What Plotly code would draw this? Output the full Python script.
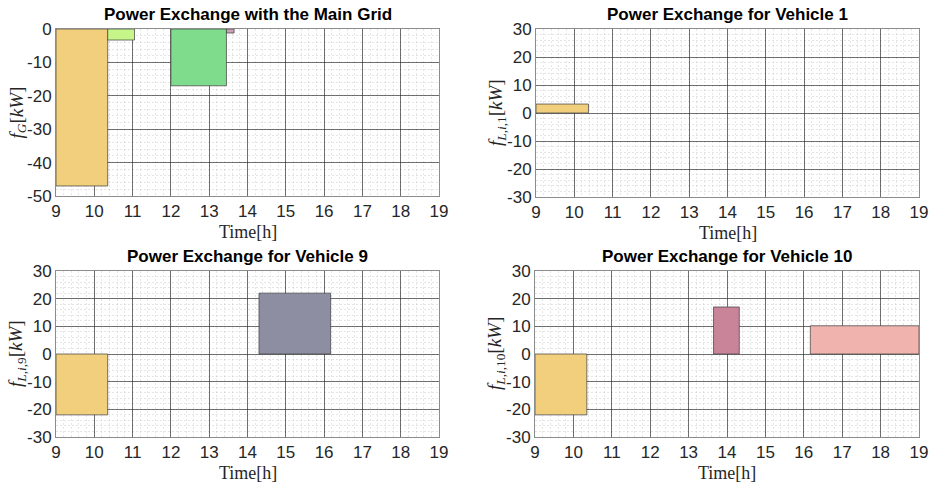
import plotly.graph_objects as go

# ---- data ----
grid_start = [9.0, 10.35, 12.0, 13.45]
grid_end = [10.35, 11.05, 13.45, 13.65]
grid_val = [-47, -3.3, -17, -1.2]

v1_start = [9.0]
v1_end = [10.37]
v1_val = [3.2]

v9_start = [9.0, 14.3]
v9_end = [10.35, 16.17]
v9_val = [-22, 22]

v10_start = [9.0, 13.65, 16.17]
v10_end = [10.35, 14.32, 19.0]
v10_val = [-22, 17, 10.2]

x_ticks = list(range(9, 20))
y_ticks_grid = [-50, -40, -30, -20, -10, 0]
y_ticks_v = [-30, -20, -10, 0, 10, 20, 30]

titles = ["Power Exchange with the Main Grid", "Power Exchange for Vehicle 1",
          "Power Exchange for Vehicle 9", "Power Exchange for Vehicle 10"]
ylabels = ["<i>f</i><sub><i>G</i></sub>[<i>kW</i>]",
           "<i>f</i><sub><i>L,i,</i>1</sub>[<i>kW</i>]",
           "<i>f</i><sub><i>L,i,</i>9</sub>[<i>kW</i>]",
           "<i>f</i><sub><i>L,i,</i>10</sub>[<i>kW</i>]"]

# ---- styles ----
ORANGE = "#F2CF7C"
grid_colors = [ORANGE, "#C6F58A", "#7EDC8C", "#C9A3B3"]
v1_colors = [ORANGE]
v9_colors = [ORANGE, "#8E8EA3"]
v10_colors = [ORANGE, "#CA8499", "#F0B3AD"]

W, H = 936, 485
# plot areas in pixels (left, right, top, bottom)
areas = [(56, 439, 29, 196), (536, 919, 29, 197), (56, 439, 271, 437), (535, 919, 271, 437)]

fig = go.Figure()

datasets = [(grid_start, grid_end, grid_val, grid_colors),
            (v1_start, v1_end, v1_val, v1_colors),
            (v9_start, v9_end, v9_val, v9_colors),
            (v10_start, v10_end, v10_val, v10_colors)]

for i, (s, e, v, c) in enumerate(datasets):
    sfx = "" if i == 0 else str(i + 1)
    fig.add_trace(go.Bar(
        x=[(a + b) / 2 for a, b in zip(s, e)],
        width=[b - a for a, b in zip(s, e)],
        y=v, base=0,
        marker=dict(color=c, line=dict(color="rgba(70,70,70,0.75)", width=1)),
        xaxis="x" + sfx, yaxis="y" + sfx, showlegend=False, hoverinfo="skip"))

tick_font = dict(family="Liberation Sans, Arial, sans-serif", size=17, color="#262626")
layout = {}
for i, (l, r, t, b) in enumerate(areas):
    sfx = "" if i == 0 else str(i + 1)
    yt = y_ticks_grid if i == 0 else y_ticks_v
    common = dict(
        showgrid=True, gridcolor="rgba(40,40,40,0.65)", gridwidth=1,
        zeroline=False, showline=True, mirror=True, linecolor="#8c8c8c", linewidth=1,
        ticks="", tickfont=tick_font, fixedrange=True, automargin=False,
        layer="above traces",
        minor=dict(showgrid=True, gridcolor="rgba(190,190,190,0.4)", griddash="2px,2px", gridwidth=1),
    )
    layout["xaxis" + sfx] = dict(common, domain=[l / W, r / W], range=[9, 19],
                                 tickvals=x_ticks, ticktext=[str(v) for v in x_ticks],
                                 anchor="y" + sfx)
    layout["xaxis" + sfx]["minor"] = dict(common["minor"], dtick=0.2, tick0=9)
    layout["yaxis" + sfx] = dict(common, domain=[1 - b / H, 1 - t / H], range=[yt[0], yt[-1]],
                                 tickvals=yt, ticktext=[str(v) for v in yt],
                                 anchor="x" + sfx)
    layout["yaxis" + sfx]["minor"] = dict(common["minor"], dtick=2, tick0=0)

fig.update_layout(**layout)

ann = []
for i, (l, r, t, b) in enumerate(areas):
    cx = (l + r) / 2
    ann.append(dict(x=cx / W, y=1 - (t - 15) / H, xref="paper", yref="paper",
                    text="<b>" + titles[i] + "</b>", showarrow=False,
                    font=dict(family="Liberation Sans, Arial, sans-serif", size=17, color="#000"),
                    xanchor="center", yanchor="middle"))
    ann.append(dict(x=cx / W, y=1 - (b + 36) / H, xref="paper", yref="paper",
                    text="Time[h]", showarrow=False,
                    font=dict(family="Liberation Serif, Times New Roman, serif", size=18, color="#262626"),
                    xanchor="center", yanchor="middle"))
    ann.append(dict(x=(l - 39) / W, y=1 - ((t + b) / 2) / H, xref="paper", yref="paper",
                    text=ylabels[i], showarrow=False, textangle=-90,
                    font=dict(family="Liberation Serif, Times New Roman, serif", size=19, color="#262626"),
                    xanchor="center", yanchor="middle"))

fig.update_layout(
    width=W, height=H, margin=dict(l=0, r=0, t=0, b=0, autoexpand=False),
    paper_bgcolor="white", plot_bgcolor="white",
    barmode="overlay", annotations=ann,
)

fig.write_html("out.html", config={"displayModeBar": False},
               post_script="document.body.style.margin='0';document.body.style.overflow='hidden';")
